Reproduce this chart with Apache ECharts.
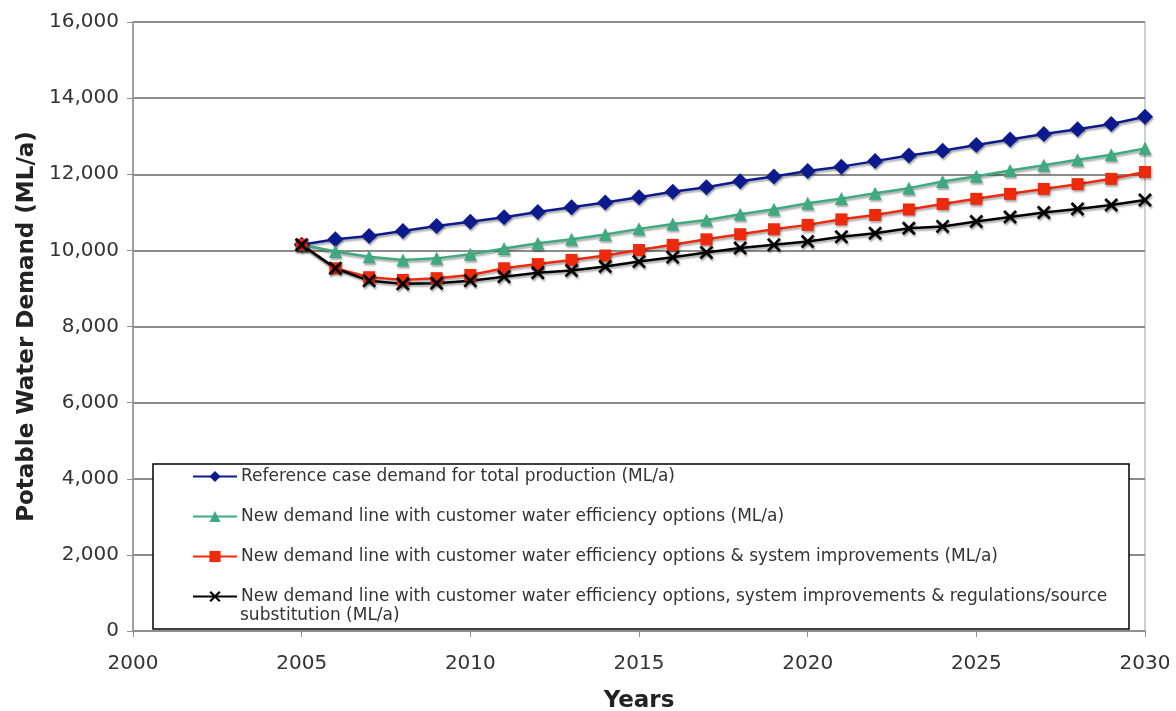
<!DOCTYPE html>
<html>
<head>
<meta charset="utf-8">
<script src="https://cdn.jsdelivr.net/npm/echarts@6/dist/echarts.min.js"></script>
<style>
  html, body { margin: 0; padding: 0; background: #fff; }
  #chart { width: 1176px; height: 711px; }
</style>
</head>
<body>
<div id="chart"></div>
<script>
// Potable water demand projections, 2005-2030 (ML/a)
const years = [2005, 2006, 2007, 2008, 2009, 2010, 2011, 2012, 2013, 2014, 2015, 2016, 2017,
               2018, 2019, 2020, 2021, 2022, 2023, 2024, 2025, 2026, 2027, 2028, 2029, 2030];

const referenceDemand = [10150, 10290, 10375, 10510, 10640, 10755, 10870, 11010, 11135, 11255, 11395, 11540, 11660,
                         11815, 11940, 12085, 12200, 12345, 12490, 12620, 12770, 12915, 13055, 13185, 13320, 13510];

const efficiencyDemand = [10150, 9970, 9830, 9750, 9790, 9900, 10050, 10190, 10295, 10415, 10565, 10690, 10800,
                          10950, 11080, 11240, 11360, 11500, 11635, 11810, 11945, 12100, 12235, 12380, 12515, 12680];

const systemDemand = [10150, 9530, 9295, 9225, 9270, 9355, 9530, 9640, 9750, 9865, 10010, 10145, 10290,
                      10425, 10555, 10670, 10815, 10930, 11075, 11220, 11355, 11485, 11615, 11740, 11880, 12060];

const substitutionDemand = [10150, 9530, 9200, 9120, 9135, 9205, 9310, 9410, 9470, 9575, 9705, 9820, 9945,
                            10060, 10145, 10235, 10355, 10450, 10580, 10630, 10760, 10875, 10995, 11085, 11190, 11325];

const seriesNames = [
  'Reference case demand for total production (ML/a)',
  'New demand line with customer water efficiency options (ML/a)',
  'New demand line with customer water efficiency options & system improvements (ML/a)',
  'New demand line with customer water efficiency options, system improvements & regulations/source substitution (ML/a)'
];

const yTicks = [0, 2000, 4000, 6000, 8000, 10000, 12000, 14000, 16000];
const xTicks = [2000, 2005, 2010, 2015, 2020, 2025, 2030];

const FONT = 'DejaVu Sans, Verdana, sans-serif';
const crossPath = 'path://M0,1.4 L1.4,0 L5,3.6 L8.6,0 L10,1.4 L6.4,5 L10,8.6 L8.6,10 L5,6.4 L1.4,10 L0,8.6 L3.6,5 Z';

function pairs(vals) { return years.map((y, i) => [y, vals[i]]); }

const shadow = { shadowColor: 'rgba(0,0,0,0.35)', shadowBlur: 2, shadowOffsetX: 1, shadowOffsetY: 2 };

function lineSeries(name, vals, color, symbol, size) {
  return {
    name: name,
    type: 'line',
    data: pairs(vals),
    symbol: symbol,
    symbolSize: size,
    showSymbol: true,
    z: 3,
    lineStyle: Object.assign({ color: color, width: 2.5 }, shadow),
    itemStyle: Object.assign({ color: color, borderWidth: 0 }, shadow),
    emphasis: { disabled: true },
    animation: false
  };
}

const chart = echarts.init(document.getElementById('chart'), null, { renderer: 'canvas' });

chart.setOption({
  backgroundColor: '#fff',
  animation: false,
  grid: {
    left: 133, right: 31, top: 22, bottom: 80,
    containLabel: false,
    outerBoundsMode: 'none',
    show: true, borderColor: '#a0a0a0', borderWidth: 1
  },
  xAxis: {
    type: 'value',
    min: xTicks[0], max: xTicks[xTicks.length - 1], interval: 5,
    name: 'Years',
    nameLocation: 'middle',
    nameGap: 59,
    nameTextStyle: { fontFamily: FONT, fontSize: 23, fontWeight: 'bold', color: '#222' },
    axisLine: { show: true, lineStyle: { color: '#909090', width: 1.5 } },
    axisTick: { show: true, inside: false, length: 6, lineStyle: { color: '#909090' } },
    axisLabel: { fontFamily: FONT, fontSize: 20, color: '#333', margin: 23,
                 formatter: v => String(v) },
    splitLine: { show: false }
  },
  yAxis: {
    type: 'value',
    min: yTicks[0], max: yTicks[yTicks.length - 1], interval: 2000,
    name: 'Potable Water Demand (ML/a)',
    nameLocation: 'middle',
    nameGap: 94,
    nameRotate: 90,
    nameTextStyle: { fontFamily: FONT, fontSize: 23, fontWeight: 'bold', color: '#222' },
    axisLine: { show: true, lineStyle: { color: '#909090', width: 1.5 } },
    axisTick: { show: true, inside: false, length: 6, lineStyle: { color: '#909090' } },
    axisLabel: { fontFamily: FONT, fontSize: 20, color: '#333', margin: 14,
                 formatter: v => v.toLocaleString('en-US') },
    splitLine: { show: true, lineStyle: { color: '#8c8c8c', width: 2 } }
  },
  legend: {
    orient: 'vertical',
    left: 192, top: 468,
    padding: 0,
    itemWidth: 44, itemHeight: 14,
    itemGap: 23,
    selectedMode: false,
    data: seriesNames,
    textStyle: { fontFamily: FONT, fontSize: 17, color: '#333', padding: [0, 0, 0, -1] },
    formatter: name => name === seriesNames[3]
      ? 'New demand line with customer water efficiency options, system improvements & regulations/source'
      : name
  },
  graphic: [
    {
      type: 'rect', z: 1,
      shape: { x: 153, y: 464, width: 976, height: 165 },
      style: { fill: '#fff', stroke: '#000', lineWidth: 1.5 },
      silent: true
    },
    {
      type: 'text', z: 2,
      left: 240, top: 607,
      style: { text: 'substitution (ML/a)', font: '17px ' + FONT, fill: '#333' },
      silent: true
    }
  ],
  series: [
    lineSeries(seriesNames[0], referenceDemand, '#0c1a8e', 'diamond', 16),
    lineSeries(seriesNames[1], efficiencyDemand, '#3faa80', 'triangle', 13),
    lineSeries(seriesNames[2], systemDemand, '#ee2a0c', 'rect', 12),
    lineSeries(seriesNames[3], substitutionDemand, '#000000', crossPath, 14)
  ]
});
</script>
</body>
</html>
